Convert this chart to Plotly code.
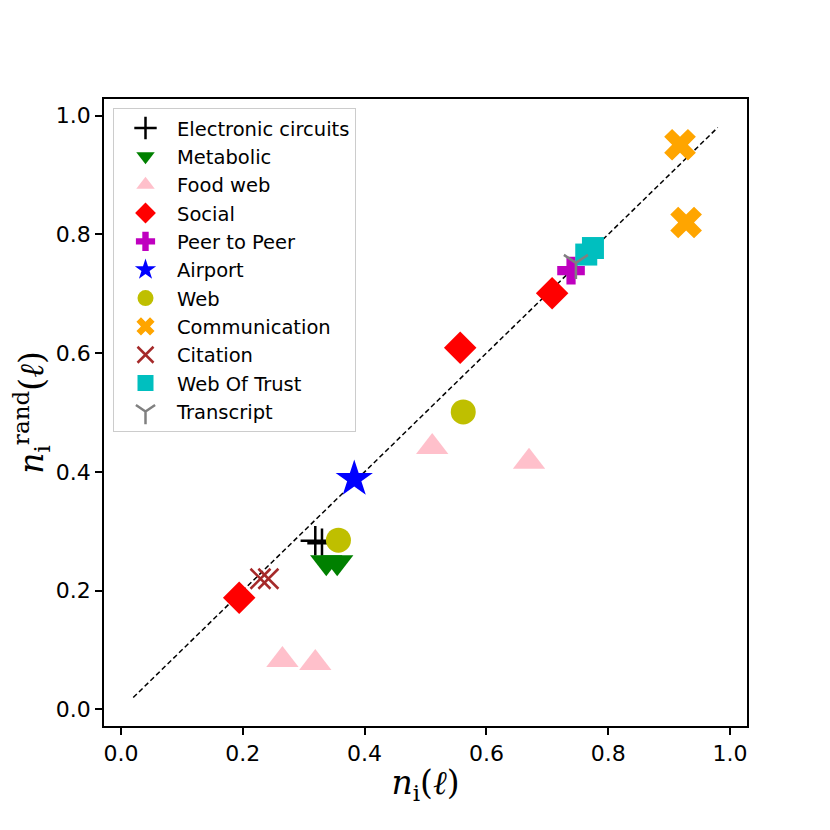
import plotly.graph_objects as go

# (x, y) values per network class
electronic_x = [0.319, 0.330]
electronic_y = [0.284, 0.280]
metabolic_x = [0.337, 0.355]
metabolic_y = [0.248, 0.248]
foodweb_x = [0.265, 0.319, 0.511, 0.670]
foodweb_y = [0.083, 0.078, 0.442, 0.417]
social_x = [0.194, 0.557, 0.708]
social_y = [0.188, 0.609, 0.701]
p2p_x = [0.739]
p2p_y = [0.739]
airport_x = [0.383]
airport_y = [0.388]
web_x = [0.357, 0.562]
web_y = [0.285, 0.501]
comm_x = [0.918, 0.928]
comm_y = [0.951, 0.820]
citation_x = [0.229, 0.242]
citation_y = [0.220, 0.220]
trust_x = [0.764, 0.775]
trust_y = [0.766, 0.777]
transcript_x = [0.747]
transcript_y = [0.752]

diag = [0.02, 0.98]

series = [
    ("Electronic circuits", electronic_x, electronic_y, "cross-thin-open", "black", 21),
    ("Metabolic", metabolic_x, metabolic_y, "triangle-down", "green", 28),
    ("Food web", foodweb_x, foodweb_y, "triangle-up", "pink", 28),
    ("Social", social_x, social_y, "diamond", "red", 25),
    ("Peer to Peer", p2p_x, p2p_y, "cross", "#bf00bf", 23),
    ("Airport", airport_x, airport_y, "star", "blue", 28),
    ("Web", web_x, web_y, "circle", "#bfbf00", 25),
    ("Communication", comm_x, comm_y, "x", "orange", 28),
    ("Citation", citation_x, citation_y, "x-thin-open", "brown", 20),
    ("Web Of Trust", trust_x, trust_y, "square", "#00bfbf", 22),
    ("Transcript", transcript_x, transcript_y, "y-down-open", "gray", 20),
]

fig = go.Figure()

fig.add_trace(
    go.Scatter(
        x=diag,
        y=diag,
        mode="lines",
        line={"color": "black", "width": 1.5, "dash": "5px,3px"},
        showlegend=False,
    )
)

for name, xs, ys, sym, color, size in series:
    thin = sym.endswith("-open")
    fig.add_trace(
        go.Scatter(
            x=xs,
            y=ys,
            mode="markers",
            name=name,
            marker={
                "symbol": sym,
                "color": color,
                "size": size,
                "line": {"width": 2.5 if thin else 0, "color": color},
            },
        )
    )

axis_common = dict(
    range=[-0.028, 1.028],
    showline=True,
    linecolor="black",
    linewidth=1.5,
    mirror=True,
    ticks="outside",
    ticklen=7,
    tickwidth=1.5,
    tickcolor="black",
    showgrid=False,
    zeroline=False,
    tickvals=[0.0, 0.2, 0.4, 0.6, 0.8, 1.0],
    ticktext=["0.0", "0.2", "0.4", "0.6", "0.8", "1.0"],
    tickfont={"family": "DejaVu Sans", "size": 22, "color": "black"},
)

title_font = {"family": "DejaVu Serif", "size": 33, "color": "black"}

fig.update_layout(
    width=830,
    height=830,
    paper_bgcolor="white",
    plot_bgcolor="white",
    margin={"l": 96, "r": 91, "t": 91, "b": 112},
    xaxis={
        **axis_common,
        "title": {
            "text": "<i>n</i><sub>i</sub>(<i>ℓ</i>)",
            "font": title_font,
            "standoff": 6,
        },
    },
    yaxis={
        **axis_common,
        "title": {
            "text": "<i>n</i><sub>i</sub><sup>rand</sup>(<i>ℓ</i>)",
            "font": title_font,
            "standoff": 6,
        },
    },
    legend={
        "x": 0.014,
        "y": 0.986,
        "xanchor": "left",
        "yanchor": "top",
        "bgcolor": "white",
        "bordercolor": "#cccccc",
        "borderwidth": 1,
        "font": {"family": "DejaVu Sans", "size": 19.5, "color": "black"},
        "tracegroupgap": 0,
        "itemwidth": 53,
    },
    showlegend=True,
)

fig.write_html("out.html")
